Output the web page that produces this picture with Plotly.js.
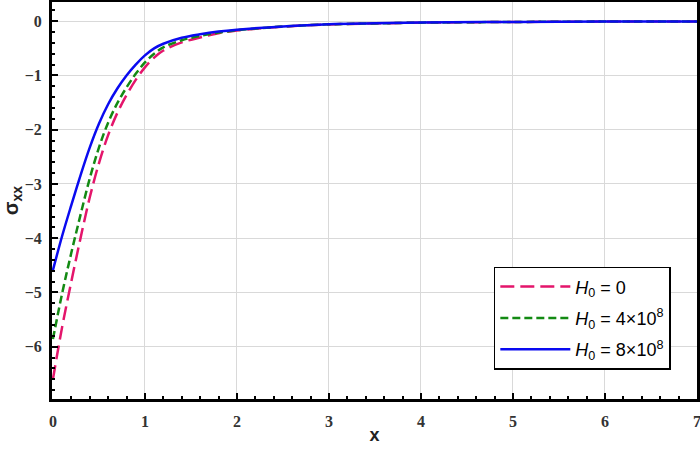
<!DOCTYPE html>
<html>
<head>
<meta charset="utf-8">
<script src="https://cdn.plot.ly/plotly-3.0.1.min.js"></script>
<style>
  html, body { margin: 0; padding: 0; background: #fff; }
  #mainPlot { width: 700px; height: 453px; }
  /* the y tick labels kept coming out sans, so force the serif face here */
  #mainPlot .xtick text, #mainPlot .ytick text {
    font-family: "Liberation Serif", serif !important;
    font-weight: bold !important;
    font-size: 16px !important;
  }
</style>
</head>
<body>
<div id="mainPlot"></div>
<script>
// x positions
const xVals = [0, 0.1, 0.2, 0.3, 0.4, 0.5, 0.6, 0.7, 0.8, 0.9, 1.0, 1.1,
  1.2, 1.4, 1.6, 1.8, 2.0, 2.5, 3.0, 3.5, 4.0, 5.0, 6.0, 7.0];

// sigma_xx for each H0
const sigmaH0 = [-6.6, -5.64, -4.8, -4.0, -3.25, -2.62, -2.1, -1.69, -1.36, -1.08, -0.85, -0.67,
  -0.54, -0.39, -0.3, -0.22, -0.17, -0.1, -0.058, -0.04, -0.026, -0.013, -0.006, -0.003];
const sigmaH4 = [-5.86, -5.02, -4.27, -3.57, -2.9, -2.33, -1.87, -1.51, -1.22, -0.97, -0.76, -0.6,
  -0.48, -0.35, -0.27, -0.21, -0.165, -0.098, -0.057, -0.04, -0.026, -0.013, -0.006, -0.003];
const sigmaH8 = [-4.59, -3.96, -3.39, -2.84, -2.33, -1.89, -1.53, -1.24, -1.0, -0.8, -0.63, -0.5,
  -0.415, -0.305, -0.24, -0.19, -0.155, -0.095, -0.055, -0.039, -0.025, -0.012, -0.006, -0.003];

const seriesNames = ['<i>H</i><sub>0</sub> = 0',
  '<i>H</i><sub>0</sub> = 4×10<sup>8</sup>',
  '<i>H</i><sub>0</sub> = 8×10<sup>8</sup>'];

const xRange = [-0.01, 7.0];
const yRange = [-6.965, 0.355];

let data = [
  {x: xVals, y: sigmaH0, name: seriesNames[0], legendgroup: 'a', type: 'scatter', mode: 'lines',
    line: {color: '#e4156b', width: 2.5, dash: '14px,6px', shape: 'spline', smoothing: 1}},
  {x: xVals, y: sigmaH4, name: seriesNames[1], legendgroup: 'b', type: 'scatter', mode: 'lines',
    line: {color: '#138a13', width: 2.5, dash: '8px,4px', shape: 'spline', smoothing: 1}},
  {x: xVals, y: sigmaH8, name: seriesNames[2], legendgroup: 'c', type: 'scatter', mode: 'lines',
    line: {color: '#0a0af0', width: 2.5, shape: 'spline', smoothing: 1}},
  // carries the overlay axes that draw the minor ticks
  {x: xVals, y: sigmaH8, xaxis: 'x2', yaxis: 'y2', type: 'scatter', mode: 'lines',
    line: {color: 'rgba(0,0,0,0)', width: 0}, showlegend: false, hoverinfo: 'skip'}
];

let layout = {
  width: 700,
  height: 453,
  margin: {l: 52, r: 3, t: 2, b: 54},
  paper_bgcolor: '#fff',
  plot_bgcolor: '#fff',
  font: {family: 'Liberation Serif', size: 16, color: '#333', weight: 'bold'},
  showlegend: true,
  legend: {
    x: 0.685, y: 0.333, xanchor: 'left', yanchor: 'top',
    bgcolor: '#fff', bordercolor: '#000', borderwidth: 1.5,
    font: {family: 'Liberation Sans', size: 18, color: '#000', weight: 'normal'},
    itemwidth: 70, tracegroupgap: 5
  },
  xaxis: {
    range: xRange, dtick: 1, tick0: 0,
    showline: true, linewidth: 3, linecolor: '#000', mirror: true,
    ticks: 'inside', ticklen: 6, tickwidth: 2, tickcolor: '#000',
    showgrid: true, gridcolor: '#d9d9d9', gridwidth: 1, zeroline: false,
    ticklabeloverflow: 'allow', ticklabelstandoff: 6,
    tickfont: {family: 'Liberation Serif', size: 16, color: '#333', weight: 'bold'},
    title: {text: '<b>x</b>', font: {family: 'Liberation Sans', size: 18, color: '#222'}, standoff: 0}
  },
  yaxis: {
    range: yRange, dtick: 1, tick0: 0,
    showline: true, linewidth: 3, linecolor: '#000', mirror: true,
    ticks: 'inside', ticklen: 6, tickwidth: 2, tickcolor: '#000',
    showgrid: true, gridcolor: '#d9d9d9', gridwidth: 1, zeroline: false,
    ticklabeloverflow: 'allow', ticklabelstandoff: 4,
    tickfont: {family: 'Liberation Serif', size: 16, color: '#333', weight: 'bold'},
    title: {text: '<b>σ<sub>xx</sub></b>', font: {family: 'Liberation Sans', size: 20, color: '#222'}, standoff: 6}
  },
  xaxis2: {
    overlaying: 'x', anchor: 'y', side: 'bottom', range: xRange, dtick: 0.2, tick0: 0,
    ticks: 'inside', ticklen: 3, tickwidth: 1.5, tickcolor: '#000',
    showticklabels: false, showgrid: false, zeroline: false, showline: false
  },
  yaxis2: {
    overlaying: 'y', anchor: 'x', side: 'left', range: yRange, dtick: 0.2, tick0: 0,
    ticks: 'inside', ticklen: 3, tickwidth: 1.5, tickcolor: '#000',
    showticklabels: false, showgrid: false, zeroline: false, showline: false
  }
};

Plotly.newPlot('mainPlot', data, layout, {displayModeBar: false}).then(function (gd) {
  // set the face inline as well, in case the stylesheet rule is not picked up
  gd.querySelectorAll('.ytick text, .xtick text').forEach(function (t) {
    t.style.fontFamily = '"Liberation Serif", serif';
    t.style.fontWeight = 'bold';
    t.style.fontSize = '16px';
  });
});
</script>
</body>
</html>
